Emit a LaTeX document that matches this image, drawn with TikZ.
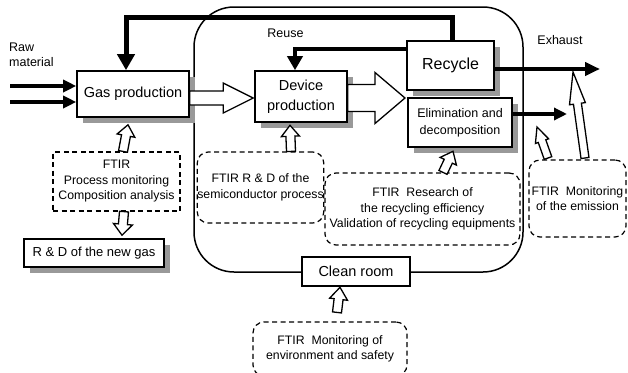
\documentclass[tikz,border=0pt]{standalone}
\usepackage{fontspec}
\setmainfont{Liberation Sans}
\usetikzlibrary{calc,shadows,arrows.meta}

% Hollow block arrow: #1 tail, #2 tip, #3 shaft half width,
% #4 head half width, #5 head length
\newcommand\hollowarrow[5]{%
  \coordinate (hab) at ($(#2)!#5!(#1)$);
  \draw[hollow] ($(#1)!#3!90:(#2)$) -- ($(hab)!#3!90:(#2)$) -- ($(hab)!#4!90:(#2)$)
    -- (#2) -- ($(hab)!#4!-90:(#2)$) -- ($(hab)!#3!-90:(#2)$) -- ($(#1)!#3!-90:(#2)$) -- cycle;
}

\begin{document}
\begin{tikzpicture}[x=1pt,y=-1pt,
  every node/.style={inner sep=0pt},
  procbox/.style={draw, line width=1.6pt, fill=white, align=center},
  shadowed/.style={general shadow={fill=black!40, shadow xshift=6pt, shadow yshift=-6pt}},
  ftirbox/.style={draw, dash pattern=on 5pt off 3.5pt, line width=1.2pt, fill=white,
    rounded corners=11pt, align=center, font=\fontsize{12.3}{15.5}\selectfont},
  lbl/.style={font=\fontsize{12.5}{15}\selectfont},
  flow/.style={line width=4pt, -{Triangle[length=13pt,width=12pt]}},
  feedback/.style={line width=5pt, line join=miter, -{Triangle[length=16pt,width=17pt]}},
  reuseline/.style={line width=4.5pt, line join=miter, -{Triangle[length=14pt,width=15pt]}},
  hollow/.style={draw, line width=1.3pt, fill=white, line join=miter},
]
\useasboundingbox (0,0) rectangle (628,372);

% clean-room area
\node[draw, line width=1.5pt, rounded corners=40pt, minimum width=329pt, minimum height=265pt]
  (area) at (358.5,139.5) {};

% process boxes
\node[procbox, shadowed, minimum width=112pt, minimum height=46pt,
  font=\fontsize{14.5}{18}\selectfont] (gas) at (133,94) {Gas production};
\node[procbox, shadowed, minimum width=92pt, minimum height=51pt,
  font=\fontsize{14.5}{20}\selectfont] (dev) at (301,96.5) {Device\\production};
\node[procbox, shadowed, minimum width=87pt, minimum height=49pt,
  font=\fontsize{16}{19}\selectfont] (rec) at (450.5,65.5) {Recycle};
\node[procbox, shadowed, minimum width=104pt, minimum height=49pt,
  font=\fontsize{12.5}{17}\selectfont] (elim) at (460,122.5) {Elimination and\\decomposition};
\node[procbox, minimum width=108pt, minimum height=29pt,
  font=\fontsize{14.5}{18}\selectfont] (clean) at (356,271.5) {Clean room};
\node[procbox, shadowed, minimum width=140pt, minimum height=28pt,
  font=\fontsize{13}{16}\selectfont] (newgas) at (94,253) {R \& D of the new gas};

% FTIR boxes
\node[ftirbox, rounded corners=0pt, minimum width=127pt, minimum height=59pt] (pm) at (116.5,181.5)
  {FTIR\\Process monitoring\\Composition analysis};
\node[ftirbox, minimum width=123pt, minimum height=71pt] (semi) at (260.5,187.5)
  {FTIR R \& D of the\\semiconductor process};
\node[ftirbox, minimum width=195pt, minimum height=72pt] (recy) at (422.5,209)
  {FTIR\ \ Research of\\the recycling efficiency\\Validation of recycling equipments};
\node[ftirbox, minimum width=97pt, minimum height=77pt] (emis) at (577.5,198.5)
  {FTIR\ \ Monitoring\\of the emission};
\node[ftirbox, minimum width=154pt, minimum height=54pt] (env) at (330,349)
  {FTIR\ \ Monitoring of\\environment and safety};

% labels
\node[lbl, align=left, anchor=west] (raw) at (9,55) {Raw\\material};
\node[lbl] (reuse) at (285.5,33) {Reuse};
\node[lbl] (exhaust) at (560,40) {Exhaust};

% raw material inputs
\coordinate (raw1) at (10,86);
\coordinate (raw2) at (10,102);
\draw[flow] (raw1) -- (raw1 -| gas.west);
\draw[flow] (raw2) -- (raw2 -| gas.west);

% recycled gas back to gas production
\coordinate (fbx) at (452,0);
\coordinate (fby) at (0,17);
\coordinate (fbl) at (126,0);
\draw[feedback] (rec.north -| fbx) -- (fbx |- fby) -- (fbl |- fby) -- (fbl |- gas.north);

% reuse in device production
\coordinate (ruy) at (0,49);
\coordinate (rux) at (295,0);
\draw[reuseline] (rec.west |- ruy) -- (rux |- ruy) -- (rux |- dev.north);

% exhaust lines
\coordinate (exend) at (600,69);
\coordinate (elend) at (567,114);
\draw[flow, -{Triangle[length=15pt,width=13pt]}] (rec.east |- exend) -- (exend);
\draw[flow] (elim.east |- elend) -- (elend);

% hollow flow arrows
\coordinate (gd1) at ($(gas.east)+(0,4)$);
\coordinate (gd2) at ($(dev.west |- gd1)+(-1,0)$);
\hollowarrow{gd1}{gd2}{7pt}{15pt}{30pt}
\coordinate (de1) at ($(dev.east)+(0,1.5)$);
\coordinate (de2) at (405,98);
\hollowarrow{de1}{de2}{13.5pt}{25.5pt}{30pt}

\coordinate (pg1) at ($(pm.north)+(6.5,0)$);
\coordinate (pg2) at ($(gas.south)+(-5,7)$);
\hollowarrow{pg1}{pg2}{4.5pt}{9pt}{11pt}
\coordinate (sd1) at ($(semi.north)+(30.5,0)$);
\coordinate (sd2) at ($(dev.south)+(-11,2.5)$);
\hollowarrow{sd1}{sd2}{4.5pt}{9pt}{11pt}
\coordinate (pn1) at ($(pm.south)+(7.5,0)$);
\coordinate (pn2) at ($(newgas.north)+(28,-3)$);
\hollowarrow{pn1}{pn2}{4.5pt}{9.5pt}{11pt}
\coordinate (re1) at ($(recy.north)+(20.5,0)$);
\coordinate (re2) at ($(elim.south)+(-7,3.5)$);
\hollowarrow{re1}{re2}{4.5pt}{9pt}{11pt}
\coordinate (em1) at (548,158);
\coordinate (em2) at (537,127);
\hollowarrow{em1}{em2}{4pt}{7pt}{15pt}
\coordinate (el1) at (585,158);
\coordinate (el2) at (573,72);
\hollowarrow{el1}{el2}{4pt}{8pt}{32pt}
\coordinate (ec1) at ($(env.north)+(7,-9)$);
\coordinate (ec2) at ($(clean.south)+(-16,0.5)$);
\hollowarrow{ec1}{ec2}{4.5pt}{9pt}{12pt}
\end{tikzpicture}
\end{document}
